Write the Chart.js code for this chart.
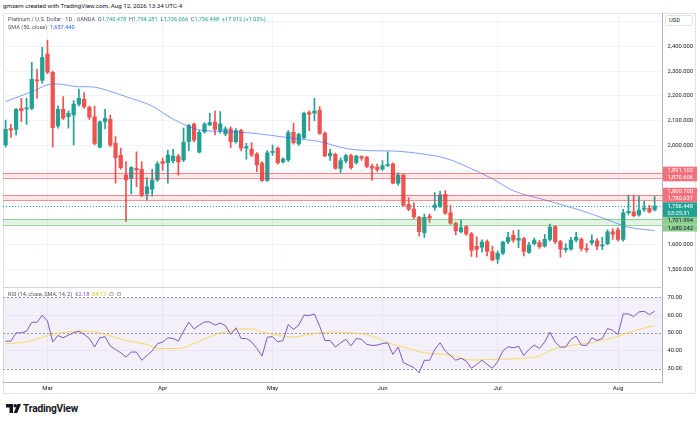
<!DOCTYPE html>
<html>
<head>
<meta charset="utf-8">
<script src="https://cdn.jsdelivr.net/npm/chart.js@4.4.1/dist/chart.umd.min.js"></script>
<style>
  body { margin: 0; background: #fff; width: 700px; height: 423px; overflow: hidden; position: relative; font-family: Roboto, "DejaVu Sans", sans-serif; color: #131722; }
  .abs { position: absolute; white-space: nowrap; }
  #hdr { left: 3px; top: 2px; font-size: 6.2px; }
  #frame { left: 3px; top: 13px; width: 693px; height: 381px; border: 1px solid #e0e3eb; box-sizing: border-box; }
  #sep { left: 3px; top: 287px; width: 660px; height: 0; border-top: 1px solid #d1d4dc; }
  #priceBox { left: 3px; top: 13px; width: 694px; height: 274px; }
  #rsiBox { left: 3px; top: 287px; width: 694px; height: 108px; }
  .leg { font-size: 5.6px; color: #50535e; }
  .up { color: #22a094; }
  .blue { color: #2962ff; }
  .purple { color: #7e57c2; }
  .yellow { color: #e8c400; }
  #usd { left: 665px; top: 15px; width: 28px; height: 11px; border: 1px solid #e0e3eb; border-radius: 2px; box-sizing: border-box; font-size: 5.8px; line-height: 9px; padding-left: 3px; background: #fff; }
  #logo { left: 6px; top: 403px; font-size: 10.2px; font-weight: bold; letter-spacing: -0.2px; }
  #logo svg { vertical-align: -1px; margin-right: 2px; }
</style>
</head>
<body>
<div id="hdr" class="abs">gmzern created with TradingView.com, Aug 12, 2026 13:34 UTC-4</div>
<div id="frame" class="abs"></div>
<div id="priceBox" class="abs"><canvas id="priceChart"></canvas></div>
<div id="rsiBox" class="abs"><canvas id="rsiChart"></canvas></div>
<div id="sep" class="abs"></div>
<div class="abs leg" style="left:8px;top:16px">Platinum / U.S. Dollar · 1D · OANDA &nbsp;O<span class="up">1,740.478</span> &nbsp;H<span class="up">1,794.281</span> &nbsp;L<span class="up">1,736.066</span> &nbsp;C<span class="up">1,756.448</span> &nbsp;<span class="up">+17.912 (+1.03%)</span></div>
<div class="abs leg" style="left:8px;top:24px">SMA (50, close) &nbsp;<span class="blue">1,657.440</span></div>
<div class="abs leg" style="left:8px;top:291px">RSI (14, close, SMA, 14, 2) &nbsp;<span class="purple">62.18</span> &nbsp;<span class="yellow">54.17</span> &nbsp;∅ &nbsp;∅</div>
<div id="usd" class="abs">USD</div>
<div id="logo" class="abs"><svg width="15" height="9" viewBox="0 0 15 9"><path d="M0 0h7v9H3.5V3.5H0z" fill="#131722"/><circle cx="9.2" cy="1.8" r="1.8" fill="#131722"/><path d="M11.5 0H15L11.2 9H7.7z" fill="#131722"/></svg>TradingView</div>

<script>
// Daily candles, mid Feb .. Aug 12
var opens = [2002,2068,2065,2150,2148,2150,2265,2262,2368,2295,2079,2146,2116,2123,2167,2186,2154,2116,1993,2096,
  2106,2009,1961,1881,1868,1908,1904,1805,1824,1861,1935,1931,1939,1958,1942,2016,2086,1973,2056,2083,
  2094,2060,2047,2067,2016,2060,1989,1986,1966,1929,1859,1972,1989,1934,1942,2053,2006,2032,2133,2130,
  2143,2049,1958,1965,1908,1938,1960,1931,1955,1952,1916,1913,1905,1920,1926,1848,1881,1763,1744,1711,
  1649,1716,1751,1757,1803,1729,1687,1653,1673,1644,1594,1590,1613,1573,1542,1566,1613,1638,1619,1625,
  1569,1605,1609,1595,1622,1673,1613,1580,1582,1619,1622,1585,1609,1616,1596,1605,1652,1660,1622,1729,
  1733,1720,1743,1748,1740.478];
var highs = [2103,2085,2150,2190,2190,2335,2307,2396,2425,2300,2160,2197,2140,2181,2227,2213,2160,2159,2100,2146,
  2123,2036,1990,1935,1915,1975,1935,1870,1904,1935,1950,1982,1985,1965,2070,2085,2090,2060,2092,2130,
  2139,2137,2075,2075,2068,2065,2009,2012,1972,1935,1980,2002,1995,1950,2060,2090,2050,2135,2140,2190,
  2157,2055,1985,1970,1950,1965,1966,1962,1960,1956,1925,1925,1939,1975,1930,1890,1885,1790,1770,1715,
  1724,1724,1810,1815,1818,1760,1692,1700,1678,1650,1632,1620,1620,1595,1575,1615,1650,1657,1660,1630,
  1610,1627,1618,1642,1684,1678,1618,1605,1630,1650,1628,1605,1640,1625,1630,1660,1665,1668,1743,1800,
  1800,1795,1775,1760,1794.281];
var lows = [1993,2033,2042,2096,2085,2145,2190,2250,2290,1993,2070,2105,2070,2002,2160,2150,2105,2002,1990,2067,
  1995,1848,1905,1693,1805,1834,1794,1781,1797,1855,1900,1848,1930,1881,1935,1979,2015,1970,2050,2080,
  2043,2050,2040,1991,2010,1978,1945,1955,1895,1855,1855,1960,1925,1930,1935,2005,2000,2028,2060,2100,
  2045,1955,1940,1905,1891,1930,1905,1925,1940,1910,1859,1895,1900,1915,1845,1840,1755,1738,1705,1636,
  1630,1690,1740,1750,1722,1682,1640,1648,1638,1553,1550,1570,1555,1535,1525,1560,1605,1610,1588,1555,
  1565,1600,1585,1590,1615,1605,1550,1570,1578,1612,1575,1570,1600,1580,1580,1600,1622,1615,1615,1720,
  1712,1715,1735,1728,1736.066];
var closes = [2065,2062,2146,2140,2152,2267,2260,2354,2296,2072,2146,2110,2130,2167,2190,2157,2114,2009,2096,2110,
  2002,1951,1911,1861,1911,1902,1801,1834,1861,1926,1928,1962,1957,1934,2014,2080,2022,2053,2086,2092,
  2065,2087,2067,2016,2060,1989,1996,1962,1922,1859,1971,1977,1931,1945,2052,2012,2045,2130,2126,2139,
  2049,1958,1969,1908,1939,1960,1911,1958,1949,1916,1909,1903,1919,1924,1848,1881,1760,1744,1713,1653,
  1711,1707,1760,1801,1727,1687,1656,1669,1644,1577,1581,1611,1573,1539,1566,1611,1630,1619,1626,1573,
  1599,1619,1593,1622,1671,1613,1582,1586,1619,1630,1585,1580,1617,1595,1600,1652,1643,1622,1729,1735,
  1717,1740,1748,1733,1756.448];

// SMA(50): [candle index, value]
var sma50 = [[0,2177],[5,2217],[9,2248],[10,2248],[14,2237],[16,2237],[18,2231],[21,2211],[24,2190],[28,2159],
  [31,2119],[35,2076],[37,2063],[42,2056],[46,2052],[50,2043],[55,2029],[60,2016],[64,1993],[66,1985],
  [70,1979],[74,1978],[77,1973],[80,1965],[84,1949],[88,1916],[93,1866],[97,1818],[103,1781],[110,1738],
  [115,1701],[119,1671],[124,1657.44]];

// RSI(14) per candle
var rsi = [45.4,45.4,50.1,50.1,51,56,56,60,56.6,45,48.6,47.3,48.8,50.1,51,49.2,46.9,42.1,47.3,47.9,
  42.7,40.8,38.9,36.5,39.3,39.3,34.7,37.4,39.9,44,44.9,47.3,46.9,45.4,51,56,52.3,54.4,56.2,56.2,
  54.4,55.6,54.1,49.2,52.9,46.9,46.9,45,41.3,37.1,47.7,47.9,45,45.8,54.7,52,54.4,60,59.8,60.7,
  53.8,45.8,45.8,42.1,44.5,46.4,42.8,46.9,46.4,43.6,43,43.2,44.1,44.5,38,42.1,33.3,32,30.6,27.6,
  34.7,34.7,40.8,44.5,39.9,37.3,34.7,35.8,34.3,30.2,32.4,34.7,32.4,30.2,33.9,39.9,42.3,41.7,42.5,37.4,
  40.8,43.2,41.3,45,50.5,44.9,42.1,42.1,46.4,48.2,43.2,43,47.3,45.8,46.9,52.5,51.4,49.2,60.7,60.7,
  59.2,61.8,62.2,60.3,62.18];

// SMA(14) of RSI: [candle index, value]
var rsiSma = [[0,44],[4,45],[9,49.2],[14,51],[16,51],[19,49.2],[23,45.8],[27,43.6],[29,41.3],[33,41.3],
  [37,45.4],[41,50.1],[43,51],[45,52.3],[47,52.3],[49,50.6],[52,48.8],[55,47.7],[58,49.2],[62,50.5],
  [66,50.1],[70,48.2],[73,44.5],[76,42.1],[80,38.9],[85,37.6],[89,34.8],[93,35.2],[99,35.8],[102,37.1],
  [104,40.2],[108,43],[112,44.5],[116,47.3],[118,49.2],[121,52],[124,54.17]];

// one spare slot on the right, like TradingView's right offset
var days = Array.from({ length: 126 }, (_, i) => i);
var monthNames = ['Mar', 'Apr', 'May', 'Jun', 'Jul', 'Aug'];
var monthStart = [8, 30, 51, 72, 94, 117];

var priceTicks = [1500, 1600, 1700, 1800, 1900, 2000, 2100, 2200, 2300, 2400, 2500];
var hiddenPriceTicks = [1700, 1800, 1900, 2500];
var rsiTicks = [30, 40, 50, 60, 70];

// support / resistance zones [top, bottom, kind]
var zones = [[1891.102, 1870.606, 'red'], [1800.700, 1780.031, 'red'], [1701.994, 1680.242, 'green']];
var rsiLevels = [70, 50, 30];
var countdown = '03:25:31';

var UP = '#22a094', DOWN = '#ef5350';
var GRID = '#f0f3fa';
var FONT = 'Roboto';

function sparse(points) {
  var arr = days.map(() => null);
  points.forEach(p => { arr[p[0]] = p[1]; });
  return arr;
}
function fmtPrice(v) {
  return v.toLocaleString('en-US', { minimumFractionDigits: 3, maximumFractionDigits: 3 });
}
function monthGrid(c) {
  return c.tick && monthStart.indexOf(c.tick.value) >= 0 ? GRID : 'rgba(0,0,0,0)';
}

var candleColors = closes.map((c, i) => c >= opens[i] ? UP : DOWN);

var zoneStyle = {
  red: { line: 'rgba(242,54,69,0.55)', fill: 'rgba(242,54,69,0.12)', box: '#f4707a', text: '#ffffff' },
  green: { line: 'rgba(76,175,80,0.55)', fill: 'rgba(76,175,80,0.16)', box: '#8ccf8e', text: '#131722' }
};

var pricePane = {
  id: 'pricePane',
  afterDatasetsDraw(chart) {
    var ctx = chart.ctx, a = chart.chartArea, y = chart.scales.y;
    ctx.save();
    ctx.beginPath();
    ctx.rect(a.left, a.top, a.width, a.height);
    ctx.clip();
    zones.forEach(z => {
      var s = zoneStyle[z[2]];
      var y1 = y.getPixelForValue(z[0]), y2 = y.getPixelForValue(z[1]);
      ctx.fillStyle = s.fill;
      ctx.fillRect(a.left, y1, a.width, y2 - y1);
      ctx.strokeStyle = s.line;
      ctx.lineWidth = 1;
      [y1, y2].forEach(py => {
        ctx.beginPath();
        ctx.moveTo(a.left, Math.round(py) + 0.5);
        ctx.lineTo(a.right, Math.round(py) + 0.5);
        ctx.stroke();
      });
    });
    // last price, dotted
    var ly = Math.round(y.getPixelForValue(closes[closes.length - 1])) + 0.5;
    ctx.strokeStyle = UP;
    ctx.setLineDash([1, 2]);
    ctx.beginPath();
    ctx.moveTo(a.left, ly);
    ctx.lineTo(a.right, ly);
    ctx.stroke();
    ctx.restore();
  },
  afterDraw(chart) {
    var ctx = chart.ctx, a = chart.chartArea, y = chart.scales.y;
    var x0 = a.right + 0.5, w = chart.width - x0, h = 7.3;
    var last = closes[closes.length - 1];
    var cy = y.getPixelForValue(last);
    var curTop = cy - h / 2, curBot = cy + h / 2 + h;

    var items = [];
    zones.forEach(z => { items.push({ v: z[0], kind: z[2] }); items.push({ v: z[1], kind: z[2] }); });
    // push labels apart so they do not overlap, last price stays put
    var above = items.filter(it => it.v > last).sort((p, q) => p.v - q.v);
    var limit = curTop;
    above.forEach(it => { it.c = Math.min(y.getPixelForValue(it.v), limit - h / 2); limit = it.c - h / 2; });
    var below = items.filter(it => it.v < last).sort((p, q) => q.v - p.v);
    limit = curBot;
    below.forEach(it => { it.c = Math.max(y.getPixelForValue(it.v), limit + h / 2); limit = it.c + h / 2; });

    ctx.save();
    ctx.font = '5.8px ' + FONT;
    ctx.textBaseline = 'middle';
    ctx.textAlign = 'left';
    items.forEach(it => {
      var s = zoneStyle[it.kind];
      ctx.fillStyle = s.box;
      ctx.fillRect(x0, it.c - h / 2, w, h);
      ctx.fillStyle = s.text;
      ctx.fillText(fmtPrice(it.v), x0 + 4.5, it.c + 0.3);
    });
    ctx.fillStyle = UP;
    ctx.fillRect(x0, curTop, w, curBot - curTop);
    ctx.fillStyle = '#ffffff';
    ctx.fillText(fmtPrice(last), x0 + 4.5, cy + 0.3);
    ctx.fillText(countdown, x0 + 4.5, cy + h + 0.3);
    ctx.restore();
  }
};

var rsiPane = {
  id: 'rsiPane',
  beforeDatasetsDraw(chart) {
    var ctx = chart.ctx, a = chart.chartArea, y = chart.scales.y;
    var top = y.getPixelForValue(rsiLevels[0]), bot = y.getPixelForValue(rsiLevels[2]);
    ctx.save();
    ctx.fillStyle = 'rgba(126,87,194,0.09)';
    ctx.fillRect(a.left, top, a.width, bot - top);
    ctx.strokeStyle = '#9598a1';
    ctx.lineWidth = 1;
    ctx.setLineDash([2, 2]);
    rsiLevels.forEach(l => {
      var py = Math.round(y.getPixelForValue(l)) + 0.5;
      ctx.beginPath();
      ctx.moveTo(a.left, py);
      ctx.lineTo(a.right, py);
      ctx.stroke();
    });
    ctx.restore();
  }
};

function fixY(s) { s.width = 34.5; s.paddingTop = 0; s.paddingBottom = 0; }

new Chart(document.getElementById('priceChart'), {
  type: 'bar',
  data: {
    labels: days,
    datasets: [
      {
        type: 'line', label: 'SMA 50', data: sparse(sma50), spanGaps: true,
        borderColor: 'rgba(41,98,255,0.6)', borderWidth: 1, pointRadius: 0,
        cubicInterpolationMode: 'monotone', order: 0
      },
      {
        label: 'body', data: opens.map((o, i) => [o, closes[i]]), backgroundColor: candleColors,
        barThickness: 3.6, minBarLength: 1, grouped: false, order: 1
      },
      {
        label: 'wick', data: lows.map((l, i) => [l, highs[i]]), backgroundColor: candleColors,
        barThickness: 1, grouped: false, order: 2
      }
    ]
  },
  options: {
    responsive: true,
    maintainAspectRatio: false,
    animation: false,
    layout: { padding: 0 },
    plugins: { legend: { display: false }, tooltip: { enabled: false } },
    scales: {
      x: {
        offset: true,
        grid: { offset: false, color: monthGrid, drawTicks: false },
        ticks: { display: false, autoSkip: false },
        border: { display: false },
        afterFit: s => { s.height = 0; s.paddingLeft = 0; s.paddingRight = 0; }
      },
      y: {
        position: 'right', min: 1430, max: 2534,
        afterBuildTicks: s => { s.ticks = priceTicks.map(v => ({ value: v })); },
        ticks: {
          autoSkip: false, padding: 5,
          color: '#131722', font: { size: 5.8, family: FONT },
          callback: v => hiddenPriceTicks.indexOf(v) >= 0 ? '' : fmtPrice(v)
        },
        grid: { color: GRID, drawTicks: false },
        border: { color: '#b2b5be' },
        afterFit: fixY
      }
    }
  },
  plugins: [pricePane]
});

new Chart(document.getElementById('rsiChart'), {
  type: 'line',
  data: {
    labels: days,
    datasets: [
      {
        label: 'RSI', data: rsi, borderColor: '#7e57c2', borderWidth: 1, pointRadius: 0, tension: 0
      },
      {
        label: 'RSI SMA', data: sparse(rsiSma), spanGaps: true, borderColor: 'rgba(248,214,60,0.8)',
        borderWidth: 1, pointRadius: 0, cubicInterpolationMode: 'monotone'
      }
    ]
  },
  options: {
    responsive: true,
    maintainAspectRatio: false,
    animation: false,
    layout: { padding: 0 },
    plugins: { legend: { display: false }, tooltip: { enabled: false } },
    scales: {
      x: {
        offset: true,
        grid: { offset: false, color: monthGrid, drawTicks: false },
        ticks: {
          autoSkip: false, maxRotation: 0, padding: 3, color: '#131722', font: { size: 6, family: FONT },
          callback: (v, i) => { var k = monthStart.indexOf(i); return k >= 0 ? monthNames[k] : ''; }
        },
        border: { color: '#b2b5be' },
        afterFit: s => { s.height = 13; s.paddingLeft = 0; s.paddingRight = 0; }
      },
      y: {
        position: 'right', min: 22.5, max: 75.8,
        afterBuildTicks: s => { s.ticks = rsiTicks.map(v => ({ value: v })); },
        ticks: {
          autoSkip: false, padding: 5,
          color: '#131722', font: { size: 5.8, family: FONT },
          callback: v => v.toFixed(2)
        },
        grid: { color: c => (c.tick && (c.tick.value === 40 || c.tick.value === 60)) ? GRID : 'rgba(0,0,0,0)', drawTicks: false },
        border: { color: '#b2b5be' },
        afterFit: fixY
      }
    }
  },
  plugins: [rsiPane]
});
</script>
</body>
</html>
